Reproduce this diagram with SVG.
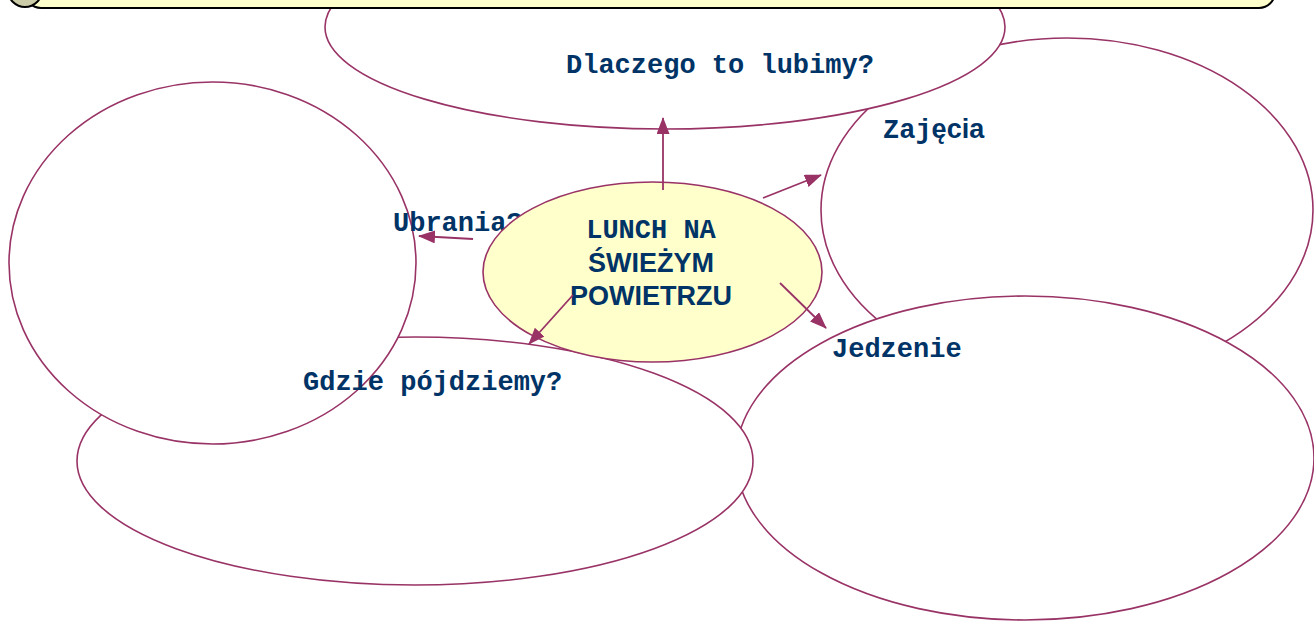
<svg xmlns="http://www.w3.org/2000/svg" width="1314" height="624" viewBox="0 0 1314 624">
<defs>
<style>
.n{fill:#ffffff;stroke:#993366;stroke-width:1.6}
.c{fill:#ffffcc;stroke:#993366;stroke-width:1.6}
.m{font-family:"Courier New","Liberation Mono",monospace;font-weight:bold;font-size:27px;fill:#003366}
.s{font-family:"Liberation Sans",Arial,sans-serif;font-weight:bold;font-size:27px;fill:#003366}
.e line{stroke:#993366;stroke-width:1.8;marker-end:url(#ah)}
</style>
<marker id="ah" viewBox="0 0 17 13" refX="16" refY="6.5" markerWidth="17" markerHeight="13" markerUnits="userSpaceOnUse" orient="auto">
<path d="M0,0 L17,6.5 L0,13 Z" fill="#993366"/>
</marker>
</defs>
<rect width="1314" height="624" fill="#ffffff"/>
<g id="zajecia">
<ellipse class="n" cx="1067" cy="210" rx="246" ry="172"/>
<text x="883" y="138"><tspan class="m">Zaj</tspan><tspan class="s">ęcia</tspan></text>
</g>
<g id="dlaczego">
<ellipse class="n" cx="665" cy="27" rx="340" ry="102"/>
<text class="m" x="566" y="73">Dlaczego to lubimy?</text>
</g>
<g id="jedzenie">
<ellipse class="n" cx="1025" cy="458" rx="289" ry="162"/>
<text class="m" x="832" y="357">Jedzenie</text>
</g>
<g id="gdzie">
<ellipse class="n" cx="415" cy="461" rx="338" ry="124"/>
</g>
<g id="ubrania">
<ellipse class="n" cx="212.5" cy="263" rx="203.5" ry="181"/>
<text class="m" x="393" y="231">Ubrania?</text>
</g>
<g id="gdzie-label">
<text class="m" x="303" y="390">Gdzie pójdziemy?</text>
</g>
<g id="center">
<ellipse class="c" cx="652.5" cy="272" rx="169.5" ry="90"/>
<text class="m" x="651" y="238" text-anchor="middle">LUNCH NA</text>
<text class="s" x="651" y="272" text-anchor="middle">ŚWIEŻYM</text>
<text class="s" x="651" y="305" text-anchor="middle">POWIETRZU</text>
</g>
<g id="connectors" class="e">
<line x1="663" y1="190" x2="663" y2="118"/>
<line x1="763" y1="198" x2="821" y2="175"/>
<line x1="473" y1="239" x2="419" y2="236"/>
<line x1="573" y1="295" x2="529" y2="344"/>
<line x1="780" y1="283" x2="826" y2="328"/>
</g>
<g id="banner">
<rect x="25" y="-40" width="1250" height="48" rx="16" fill="#ffffcc" stroke="#000" stroke-width="2"/>
<circle cx="25" cy="-10" r="17" fill="#cccca8" stroke="#000" stroke-width="2"/>
</g>
</svg>
